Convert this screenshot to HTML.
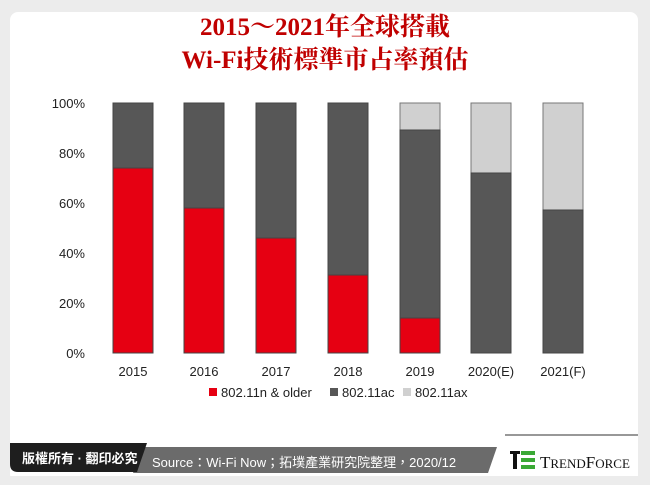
<!DOCTYPE html>
<html><head><meta charset="utf-8"><style>
body{margin:0;width:650px;height:485px;background:#ececec;overflow:hidden;font-family:"Liberation Sans","Noto Sans CJK TC",sans-serif;}
</style></head><body>
<svg width="650" height="485" xmlns="http://www.w3.org/2000/svg" style="position:absolute;left:0;top:0">
<rect x="10" y="12" width="628" height="470" rx="8" fill="#ffffff"/>
<rect x="0" y="476" width="650" height="9" fill="#ececec"/>
<g font-family="'Liberation Serif','Noto Serif CJK SC',serif" font-weight="bold" font-size="25" fill="#c00000" text-anchor="middle">
<text x="325" y="35">2015～2021年全球搭載</text>
<text x="325" y="68">Wi-Fi技術標準市占率預估</text>
</g>
<g font-size="13" fill="#222" text-anchor="end">
<text x="85" y="108">100%</text><text x="85" y="158">80%</text><text x="85" y="208">60%</text>
<text x="85" y="258">40%</text><text x="85" y="308">20%</text><text x="85" y="358">0%</text>
</g>
<g stroke="#444" stroke-width="1">
<rect x="113" y="103" width="40" height="250" fill="#575757"/><rect x="113" y="168" width="40" height="185" fill="#e60012"/>
<rect x="184" y="103" width="40" height="250" fill="#575757"/><rect x="184" y="208" width="40" height="145" fill="#e60012"/>
<rect x="256" y="103" width="40" height="250" fill="#575757"/><rect x="256" y="238" width="40" height="115" fill="#e60012"/>
<rect x="328" y="103" width="40" height="250" fill="#575757"/><rect x="328" y="275" width="40" height="78" fill="#e60012"/>
<rect x="400" y="103" width="40" height="250" fill="#d0d0d0" stroke="#777"/><rect x="400" y="130" width="40" height="223" fill="#575757"/><rect x="400" y="318" width="40" height="35" fill="#e60012"/>
<rect x="471" y="103" width="40" height="250" fill="#d0d0d0" stroke="#777"/><rect x="471" y="173" width="40" height="180" fill="#575757"/>
<rect x="543" y="103" width="40" height="250" fill="#d0d0d0" stroke="#777"/><rect x="543" y="210" width="40" height="143" fill="#575757"/>
</g>
<g font-size="13" fill="#222" text-anchor="middle">
<text x="133" y="376">2015</text><text x="204" y="376">2016</text><text x="276" y="376">2017</text>
<text x="348" y="376">2018</text><text x="420" y="376">2019</text><text x="491" y="376">2020(E)</text><text x="563" y="376">2021(F)</text>
</g>
<g font-size="13" fill="#222">
<rect x="209" y="388" width="8" height="8" fill="#e60012"/><text x="221" y="397">802.11n &amp; older</text>
<rect x="330" y="388" width="8" height="8" fill="#575757"/><text x="342" y="397">802.11ac</text>
<rect x="403" y="388" width="8" height="8" fill="#d0d0d0"/><text x="415" y="397">802.11ax</text>
</g>
<polygon points="500,440 638,440 638,476 486,476" fill="#ffffff"/>
<path d="M505,435 L638,435" stroke="#777" stroke-width="1.5"/>
<polygon points="142,447 497,447 488,473 133,473" fill="#6b6b6b"/>
<path d="M10,443 L147,443 L137,472 L18,472 Q10,472 10,464 Z" fill="#1e1e1e"/>
<text x="22" y="463" font-size="13" font-weight="bold" fill="#fff">版權所有 · 翻印必究</text>
<text x="152" y="467" font-size="13" fill="#fff">Source：Wi-Fi Now；拓墣產業研究院整理，2020/12</text>
<rect x="510" y="451" width="10" height="3" fill="#111"/><rect x="513" y="454" width="4" height="15" fill="#111"/>
<rect x="521" y="451" width="14" height="4" fill="#3aa935"/><rect x="521" y="458" width="14" height="4" fill="#3aa935"/><rect x="521" y="465" width="14" height="4" fill="#3aa935"/>
<text x="540" y="468" font-family="'Liberation Serif',serif" font-size="17" fill="#111">T<tspan font-size="13">REND</tspan>F<tspan font-size="13">ORCE</tspan></text>
</svg>
</body></html>
